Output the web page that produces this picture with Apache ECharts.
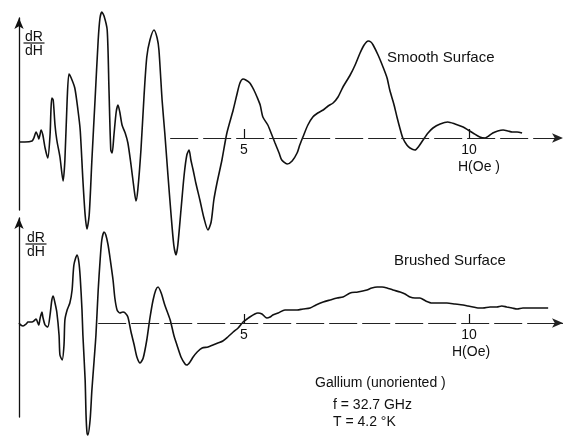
<!DOCTYPE html>
<html>
<head>
<meta charset="utf-8">
<script src="https://cdn.jsdelivr.net/npm/echarts@6/dist/echarts.min.js"></script>
<style>html,body{margin:0;padding:0;background:#fff}#c{width:565px;height:436px}</style>
</head>
<body>
<div id="c"></div>
<script>
// H (Oe) sample positions and dR/dH (arbitrary units) for the smooth surface
const smoothH = [0.00,0.13,0.29,0.33,0.38,0.42,0.44,0.47,0.49,0.53,0.58,0.64,0.69,0.71,0.73,0.76,0.80,0.84,0.91,0.98,1.02,1.07,1.11,1.16,1.24,1.31,1.36,1.42,1.47,1.51,1.56,1.62,1.69,1.76,1.80,1.84,1.89,1.96,2.00,2.04,2.07,2.11,2.16,2.20,2.24,2.29,2.36,2.42,2.49,2.56,2.60,2.64,2.71,2.78,2.84,2.91,3.00,3.07,3.11,3.18,3.24,3.31,3.38,3.44,3.49,3.53,3.60,3.67,3.73,3.78,3.82,3.87,3.93,4.02,4.11,4.20,4.27,4.33,4.40,4.51,4.62,4.76,4.84,4.91,4.98,5.04,5.13,5.22,5.29,5.36,5.42,5.53,5.62,5.69,5.78,5.84,5.96,6.07,6.18,6.24,6.31,6.42,6.53,6.64,6.76,6.87,6.98,7.09,7.20,7.36,7.47,7.58,7.67,7.76,7.82,7.87,7.98,8.09,8.18,8.24,8.33,8.40,8.47,8.53,8.62,8.69,8.80,8.89,8.98,9.09,9.20,9.36,9.53,9.69,9.87,9.98,10.09,10.24,10.36,10.44,10.53,10.64,10.76,10.87,10.96,11.07,11.18];
const smoothV = [-4,-4,-3,0,6,2,-1,4,8,3,-10,-20,3,28,40,38,13,-2,-19,-43,-22,38,64,60,50,28,8,-42,-77,-91,-77,-22,38,98,120,126,122,108,48,-12,-15,3,26,33,26,13,5,-5,-27,-52,-63,-52,-12,43,81,98,108,100,88,38,5,-37,-77,-107,-117,-107,-72,-37,-17,-12,-22,-32,-45,-62,-80,-92,-84,-62,-45,-22,5,28,43,55,59,58,55,48,41,33,21,13,3,-5,-15,-22,-26,-23,-15,-7,1,13,21,25,28,32,35,41,51,63,73,85,93,97,96,93,83,71,60,48,34,21,9,0,-7,-10,-12,-8,-2,5,10,14,16,14,11,8,5,1,0,2,5,7,8,7,6,6,5];

// H (Oe) sample positions and dR/dH for the brushed surface
const brushedH = [0.00,0.04,0.09,0.16,0.20,0.29,0.33,0.38,0.42,0.44,0.47,0.51,0.53,0.58,0.64,0.69,0.73,0.76,0.80,0.84,0.89,0.91,0.96,1.00,1.02,1.07,1.13,1.18,1.22,1.29,1.33,1.36,1.40,1.42,1.47,1.49,1.51,1.53,1.58,1.62,1.67,1.71,1.76,1.80,1.84,1.89,1.93,1.98,2.02,2.09,2.13,2.18,2.24,2.31,2.36,2.42,2.49,2.56,2.62,2.69,2.76,2.84,2.91,2.98,3.04,3.09,3.16,3.24,3.36,3.44,3.51,3.60,3.69,3.73,3.80,3.87,3.96,4.07,4.20,4.31,4.42,4.53,4.64,4.76,4.87,4.98,5.07,5.13,5.24,5.31,5.40,5.47,5.51,5.58,5.64,5.76,5.91,6.04,6.18,6.31,6.47,6.60,6.76,6.91,7.07,7.20,7.36,7.53,7.73,7.84,7.96,8.07,8.18,8.31,8.47,8.58,8.69,8.80,8.91,9.04,9.18,9.36,9.51,9.69,9.87,9.98,10.09,10.20,10.31,10.47,10.62,10.73,10.84,10.96,11.07,11.20,11.36,11.47,11.58,11.76];
const brushedV = [0,-2,-3,-1,1,1,2,4,0,-2,5,11,6,-2,-4,8,23,27,20,11,-12,-32,-37,-22,3,13,20,33,58,68,61,46,13,-12,-57,-92,-109,-112,-97,-67,-37,-12,33,61,83,91,88,78,66,43,25,13,10,11,10,6,-9,-22,-34,-40,-35,-17,5,23,33,36,30,18,3,-12,-22,-34,-41,-42,-39,-34,-29,-25,-24,-22,-20,-18,-14,-9,-5,1,4,6,9,10,9,6,5,6,8,10,13,13,13,14,15,18,21,23,25,26,30,31,33,35,36,36,35,33,31,29,26,25,25,22,20,20,20,19,18,17,16,15,15,16,16,17,16,15,14,15,15,15,15,15];

// axis ticks / labels and baseline extents (H, Oe)
const tickValues = [5, 10];
const tickLabels = ['5', '10'];
const hMax = 12.09;
const baselineStart = [3.36, 1.76];
// y-axis ranges of the two panels (arbitrary units)
const yRangeTop = [-72, 120];
const yRangeBottom = [-94, 105];

const chart = echarts.init(document.getElementById('c'), null, {renderer: 'canvas'});
const FONT = '"Liberation Sans", Arial, sans-serif';
const pair = (hs, vs) => hs.map((h, i) => [h, vs[i]]);

const grids = [
  {left: 19, width: 544, top: 18, height: 192},
  {left: 19, width: 544, top: 218, height: 199}
];
const ranges = [yRangeTop, yRangeBottom];

function xAxisFor(gi) {
  const g = grids[gi], r = ranges[gi];
  // shift the axis up from the grid bottom to the value-zero line
  const zeroOffset = -g.height * (0 - r[0]) / (r[1] - r[0]);
  return {
    gridIndex: gi, type: 'value', min: 0, max: hMax, interval: 5,
    position: 'bottom', offset: zeroOffset,
    axisLine: {show: false, onZero: false},
    splitLine: {show: false},
    axisTick: {show: true, inside: true, length: 9, customValues: tickValues, lineStyle: {color: '#111', width: 1.2}},
    axisLabel: {show: true, customValues: tickValues, margin: 5, color: '#111', fontSize: 14, fontFamily: FONT,
      formatter: v => tickLabels[tickValues.indexOf(v)] || ''}
  };
}
function yAxisFor(gi) {
  const r = ranges[gi];
  return {
    gridIndex: gi, type: 'value', min: r[0], max: r[1],
    axisLine: {show: true, onZero: false, symbol: ['none', 'arrow'], symbolSize: [7, 11], lineStyle: {color: '#111', width: 1.3}},
    axisTick: {show: false}, axisLabel: {show: false}, splitLine: {show: false}
  };
}
function seriesFor(gi, data, start) {
  return {
    type: 'line', xAxisIndex: gi, yAxisIndex: gi, data: data,
    showSymbol: false, smooth: 0.25, clip: false, silent: true,
    lineStyle: {color: '#111', width: 1.6},
    markLine: {
      silent: true, symbol: ['none', 'arrow'], symbolSize: [7, 11], animation: false,
      label: {show: false},
      lineStyle: {color: '#222', width: 1, type: [28, 5]},
      data: [[{coord: [start, 0]}, {coord: [hMax, 0]}]]
    }
  };
}

function frac(x, yTop, w) {
  return [
    {type: 'text', x: x, y: yTop, style: {text: 'dR', font: '14px ' + FONT, fill: '#111', textAlign: 'center', textVerticalAlign: 'middle'}},
    {type: 'line', shape: {x1: x - w / 2, y1: yTop + 6, x2: x + w / 2, y2: yTop + 6}, style: {stroke: '#111', lineWidth: 1.2}},
    {type: 'text', x: x, y: yTop + 14, style: {text: 'dH', font: '14px ' + FONT, fill: '#111', textAlign: 'center', textVerticalAlign: 'middle'}}
  ];
}
function txt(t, x, y, size) {
  return {type: 'text', x: x, y: y, style: {text: t, font: size + 'px ' + FONT, fill: '#111', textAlign: 'left', textVerticalAlign: 'middle'}};
}

chart.setOption({
  animation: false,
  backgroundColor: '#fff',
  grid: grids,
  xAxis: [xAxisFor(0), xAxisFor(1)],
  yAxis: [yAxisFor(0), yAxisFor(1)],
  series: [
    seriesFor(0, pair(smoothH, smoothV), baselineStart[0]),
    seriesFor(1, pair(brushedH, brushedV), baselineStart[1])
  ],
  graphic: [].concat(
    frac(34, 37, 21),
    frac(36, 238, 21),
    [
      txt('Smooth Surface', 387, 58, 15),
      txt('H(Oe )', 458, 167, 14),
      txt('Brushed Surface', 394, 261, 15),
      txt('H(Oe)', 452, 352, 14),
      txt('Gallium (unoriented )', 315, 383, 14),
      txt('f = 32.7 GHz', 333, 405, 14),
      txt('T = 4.2 °K', 333, 422, 14)
    ]
  )
});
</script>
</body>
</html>
